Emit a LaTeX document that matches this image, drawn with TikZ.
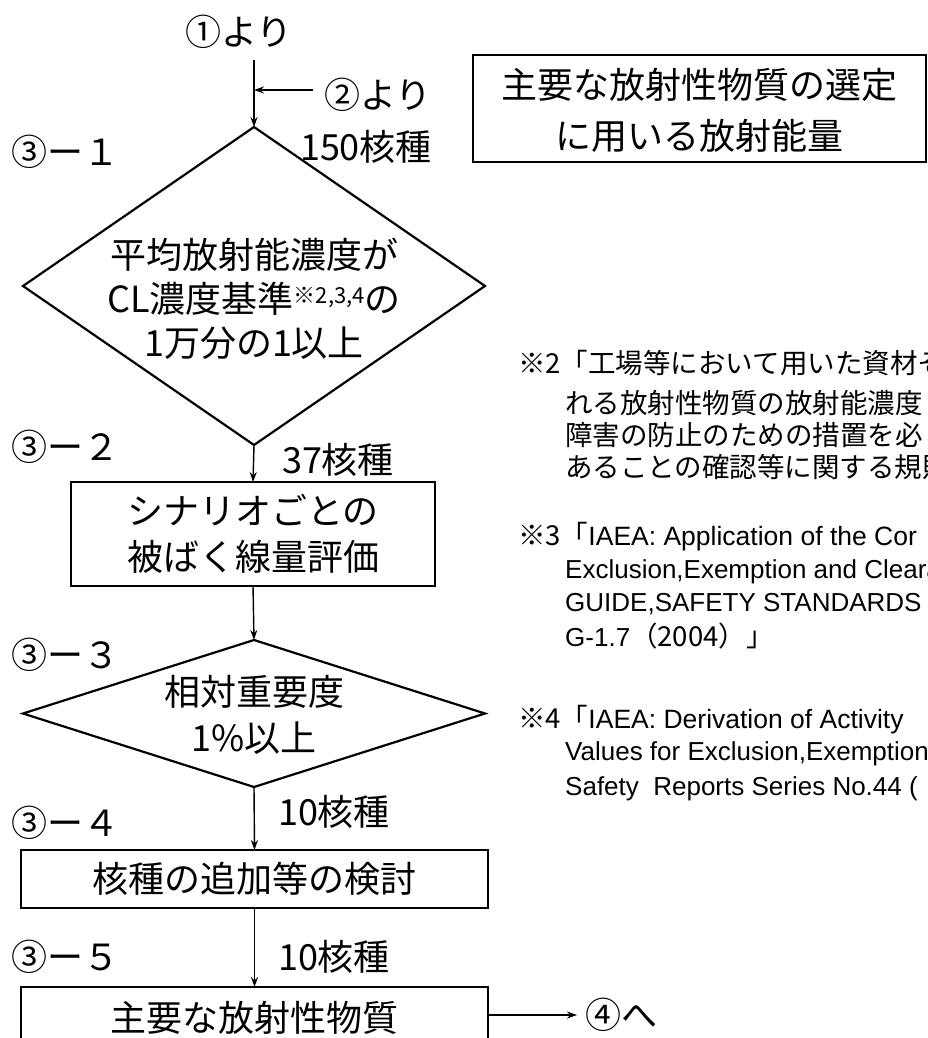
\documentclass[tikz,border=0pt]{standalone}
\usepackage{fontspec}
\setmainfont{Noto Sans CJK JP}
\newfontfamily\lat{Liberation Sans}
\usetikzlibrary{shapes.geometric,arrows.meta}
\begin{document}
\begin{tikzpicture}[x=1pt,y=-1pt,
  shapeline/.style={draw=black,line width=2.2pt},
  decision/.style={shapeline,diamond,inner sep=0pt,outer sep=0pt},
  procbox/.style={shapeline,rectangle,inner sep=0pt,outer sep=0pt},
  big/.style={font=\fontsize{36}{46}\selectfont},
  lbl/.style={big,inner sep=0pt},
  stagelbl/.style={big,inner sep=0pt,anchor=west},
  notetxt/.style={font=\fontsize{27.5}{33}\selectfont,anchor=base west,inner sep=0pt},
  latnote/.style={notetxt,font=\lat\fontsize{26}{30}\selectfont},
  arr/.style={line width=1.4pt,-{Stealth[length=10pt,width=7pt]}}]
\useasboundingbox (0,0) rectangle (927,1038);
\clip (0,0) rectangle (927,1038);
\fill[white] (0,0) rectangle (927,1038);

% shapes
\node[decision,minimum width=462,minimum height=318] (d1) at (254,286) {};
\node[lbl,align=center,font=\fontsize{36}{44}\selectfont] (d1t) at (254,299)
  {平均放射能濃度が\\CL濃度基準\raisebox{9pt}{\fontsize{22}{22}\selectfont ※2,3,4}の\\1万分の1以上};
\node[procbox,minimum width=364,minimum height=104,align=center,big] (b2) at (253,534)
  {シナリオごとの\\被ばく線量評価};
\node[decision,minimum width=462,minimum height=147] (d2) at (254,713.5) {};
\node[lbl,align=center] (d2t) at (254,715) {相対重要度\\1\%以上};
\node[procbox,minimum width=467,minimum height=58,big] (b3) at (254.5,879) {核種の追加等の検討};
\node[procbox,minimum width=467,minimum height=62,big] (b4) at (254.5,1018) {主要な放射性物質};
\node[procbox,minimum width=453,minimum height=107,align=center,font=\fontsize{36}{51}\selectfont,text depth=0pt] (title) at (699.5,108.5)
  {主要な放射性物質の選定\\に用いる放射能量};

% labels
\node[lbl] (one) at (239,32) {①より};
\node[lbl] (two) at (378,95) {②より};
\node[lbl] (n150) at (366,147) {150核種};
\node[stagelbl] (s1) at (11,152) {③ー１};
\node[stagelbl] (s2) at (11,447) {③ー２};
\node[stagelbl] (s3) at (11,655) {③ー３};
\node[stagelbl] (s4) at (11,823) {③ー４};
\node[stagelbl] (s5) at (11,957) {③ー５};
\node[lbl] (n37) at (338,460) {37核種};
\node[lbl] (n10a) at (334,812) {10核種};
\node[lbl] (n10b) at (334,957) {10核種};
\node[stagelbl] (four) at (585,1015) {④へ};

% connectors
\coordinate (start) at (254,60);
\coordinate (join) at (254,90);
\coordinate (twoend) at (313,90);
\draw[arr] (start) -- (d1.north);
\draw[arr] (twoend) -- (join);
\draw[arr] (d1.south) -- (b2.north);
\draw[arr] (b2.south) -- (d2.north);
\draw[arr] (d2.south) -- (b3.north);
\draw[arr] (b3.south) -- (b4.north);
\draw[arr] (b4.east |- four.west) -- ([xshift=-8]four.west);

% notes
\node[notetxt] (n2a) at (518,373) {※2「工場等において用いた資材そ};
\node[notetxt] (n2b) at (565,413) {れる放射性物質の放射能濃度};
\node[notetxt] (n2c) at (565,445.5) {障害の防止のための措置を必};
\node[notetxt] (n2d) at (565,477.5) {あることの確認等に関する規則};
\node[notetxt] (n3a) at (518,545) {※3「{\lat\fontsize{26.5}{30}\selectfont IAEA: Application of the Cor}};
\node[latnote] (n3b) at (565,578) {Exclusion,Exemption and Cleara};
\node[latnote] (n3c) at (565,611) {GUIDE,SAFETY STANDARDS S};
\node[notetxt] (n3d) at (565,646) {{\lat\fontsize{26}{30}\selectfont G-1.7}（2004）」};
\node[notetxt] (n4a) at (518,728) {※4「{\lat\fontsize{26.5}{30}\selectfont IAEA: Derivation of Activity}};
\node[latnote] (n4b) at (565,760) {Values for Exclusion,Exemption};
\node[latnote] (n4c) at (565,795) {Safety\ \ Reports Series No.44 (};
\end{tikzpicture}
\end{document}
